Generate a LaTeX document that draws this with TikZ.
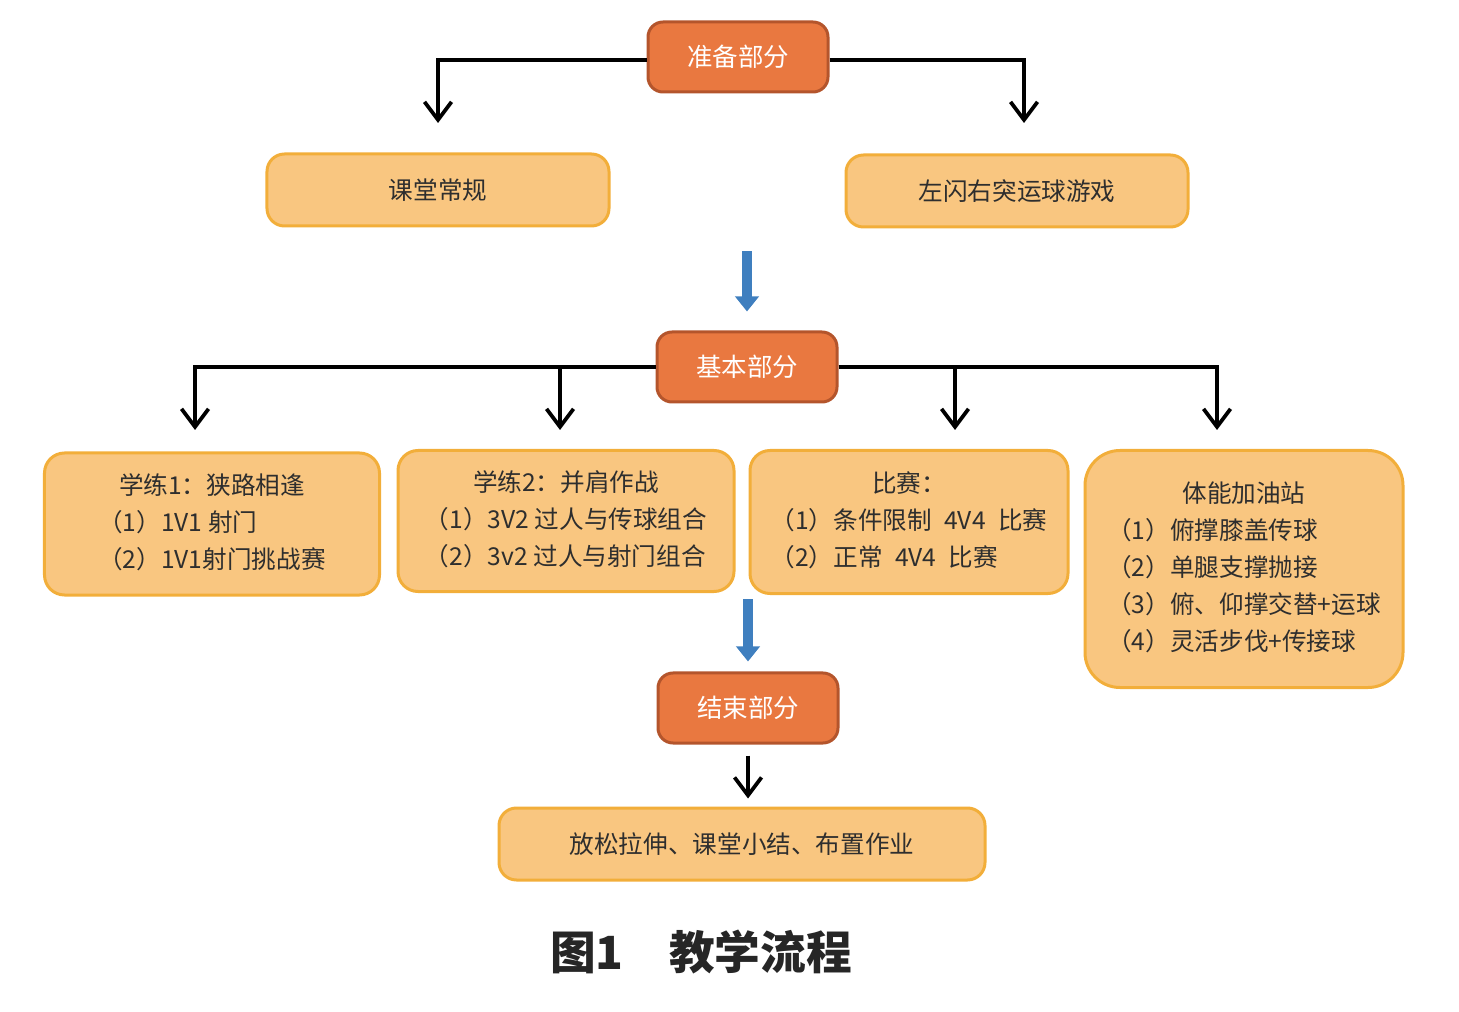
\documentclass[tikz,border=0pt]{standalone}
\usepackage{fontspec}
\setmainfont{Noto Sans CJK SC}
\usetikzlibrary{arrows.meta}
\definecolor{partfill}{HTML}{E97840}
\definecolor{partline}{HTML}{B4552C}
\definecolor{itemfill}{HTML}{F9C680}
\definecolor{itemline}{HTML}{F2AE3A}
\definecolor{itemtext}{HTML}{2E2E2E}
\definecolor{flowblue}{HTML}{3F7FBF}

\begin{document}
\begin{tikzpicture}[x=0.2mm, y=-0.2mm,
  part/.style={rectangle, rounded corners=3mm, draw=partline, line width=0.6mm, fill=partfill, text=white,
    minimum width=36mm, minimum height=14mm, inner sep=0pt, font=\fontsize{14.5}{18}\selectfont},
  item/.style={rectangle, rounded corners=3.5mm, draw=itemline, line width=0.6mm, fill=itemfill, text=itemtext,
    inner sep=0pt, font=\fontsize{14}{21}\selectfont},
  link/.style={line width=0.75mm, -{Straight Barb[length=3.6mm, width=5.4mm]}},
  flow/.style={flowblue, line width=2mm, -{Triangle[length=3mm, width=4.6mm]}}]
\useasboundingbox (0,0) rectangle (1459,1012);

\node[part] (P1) at (738,57) {准备部分};
\node[item, minimum width=68.4mm, minimum height=14.4mm] (K1) at (438,190) {课堂常规};
\node[item, minimum width=68.4mm, minimum height=14.4mm] (K2) at (1017,191) {左闪右突运球游戏};

\node[part] (P2) at (747,367) {基本部分};
\node[item, minimum width=67mm, minimum height=28.4mm, rounded corners=4mm] (B1) at (212,524)
  {\begin{tabular}{@{}l@{}}\multicolumn{1}{@{}c@{}}{学练1：狭路相逢}\\（1）1V1 射门\\（2）1V1射门挑战赛\end{tabular}};
\node[item, minimum width=67.2mm, minimum height=28.2mm, rounded corners=4mm] (B2) at (566,521)
  {\begin{tabular}{@{}l@{}}\multicolumn{1}{@{}c@{}}{学练2：并肩作战}\\（1）3V2 过人与传球组合\\（2）3v2 过人与射门组合\end{tabular}};
\node[item, minimum width=63.6mm, minimum height=28.6mm, rounded corners=4mm] (B3) at (909,522)
  {\begin{tabular}{@{}l@{}}\multicolumn{1}{@{}c@{}}{比赛：}\\（1）条件限制\enspace 4V4\enspace 比赛\\（2）正常\enspace 4V4\enspace 比赛\end{tabular}};
\node[item, minimum width=63.6mm, minimum height=47.4mm, rounded corners=7mm] (B4) at (1244,569)
  {\begin{tabular}{@{}l@{}}\multicolumn{1}{@{}c@{}}{体能加油站}\\（1）俯撑膝盖传球\\（2）单腿支撑抛接\\（3）俯、仰撑交替+运球\\（4）灵活步伐+传接球\end{tabular}};

\node[part] (P3) at (748,708) {结束部分};
\node[item, minimum width=97.2mm, minimum height=14.4mm] (E1) at (742,844) {放松拉伸、课堂小结、布置作业};

\node[text=black!85, font=\fontsize{26}{30}\selectfont\bfseries] (cap) at (701,952) {图1\hspace{1em}教学流程};

% drop points of both levels
\coordinate (u1) at (438,123);
\coordinate (u2) at (1024,123);
\coordinate (d1) at (195,430);
\coordinate (d2) at (560,430);
\coordinate (d3) at (955,430);
\coordinate (d4) at (1217,430);

\draw[link] ([yshift=-0.6mm]P1.west) -| (u1);
\draw[link] ([yshift=-0.6mm]P1.east) -| (u2);
\draw[flow] ([yshift=15.8mm]P2.north) -- ([yshift=3.8mm]P2.north);
\draw[link] (P2) -| (d1);
\draw[link] (P2) -| (d2);
\draw[link] (P2) -| (d3);
\draw[link] (P2) -| (d4);
\draw[flow] ([yshift=14.4mm]P3.north) -- ([yshift=2mm]P3.north);
\draw[link, shorten <=2.2mm, shorten >=1.6mm] (P3.south) -- (P3.south |- E1.north);
\end{tikzpicture}
\end{document}
